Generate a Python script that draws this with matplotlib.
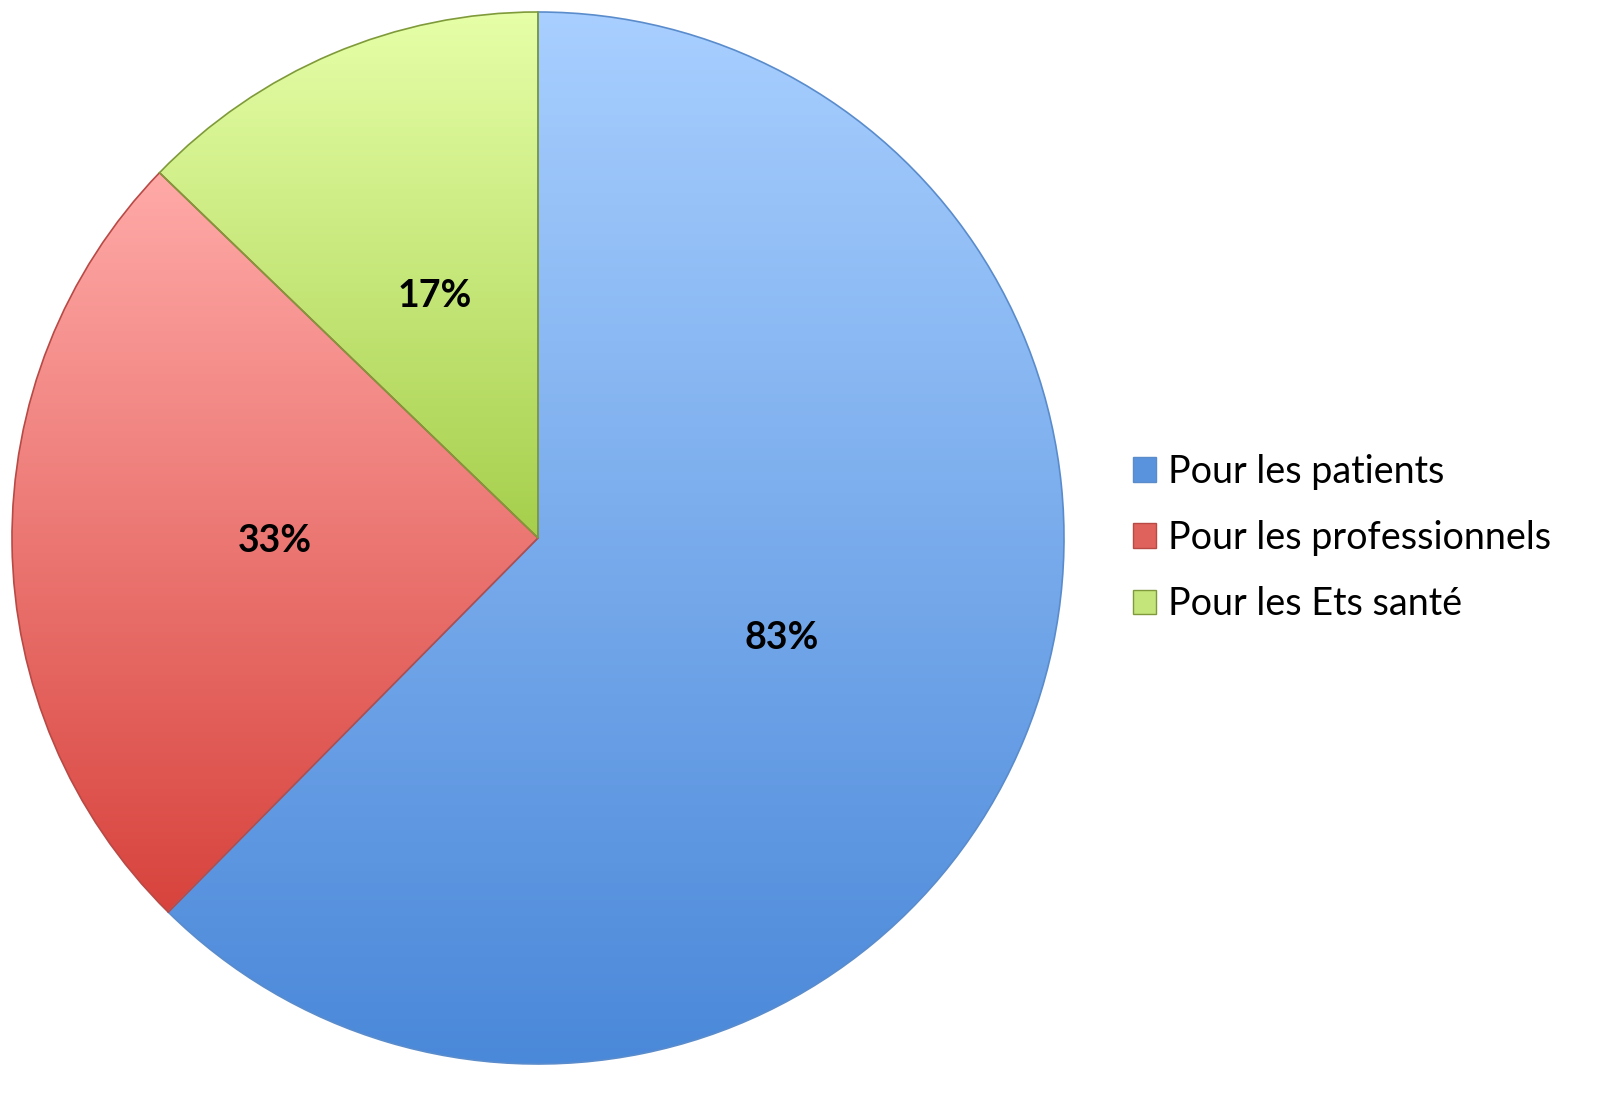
import numpy as np
import matplotlib.pyplot as plt
from matplotlib.patches import Patch
from matplotlib.colors import LinearSegmentedColormap

plt.rcParams['font.family'] = ['Lato', 'DejaVu Sans']

labels = ['Pour les patients', 'Pour les professionnels', 'Pour les Ets santé']
values = [83, 33, 17]
top_colors = ['#a8cfff', '#ffaaa8', '#e6ffa8']
bottom_colors = ['#4a88d9', '#d8433d', '#a6cf4c']
edge_colors = ['#5a8ccc', '#b84a46', '#7f9a3a']

fig = plt.figure(figsize=(16.15, 10.97), dpi=100)
W, H = 1615, 1097
# pie occupies roughly x 12..1064, y 12..1064 px
ax = fig.add_axes([12 / W, (H - 1064) / H, 1052 / W, 1052 / H])

total = sum(values)
wedges, texts, autotexts = ax.pie(
    values, startangle=90, counterclock=False, radius=1,
    autopct=lambda p: f'{round(p * total / 100)}%', pctdistance=0.5,
    wedgeprops=dict(linewidth=1.2), textprops=dict(fontsize=27, fontweight='bold', color='black'))

# vertical gradient inside each slice
for w, c1, c2, ec in zip(wedges, top_colors, bottom_colors, edge_colors):
    w.set_facecolor('none')
    w.set_edgecolor(ec)
    bb = w.get_path().get_extents(w.get_transform() + ax.transData.inverted())
    cmap = LinearSegmentedColormap.from_list('g', [c2, c1])
    grad = np.linspace(0, 1, 256).reshape(-1, 1)
    im = ax.imshow(grad, cmap=cmap, origin='lower', aspect='auto',
                   extent=[bb.x0, bb.x1, bb.y0, bb.y1], zorder=0.5)
    im.set_clip_path(w)
for t in autotexts:
    t.set_zorder(5)

ax.set_xlim(-1.0, 1.0)
ax.set_ylim(-1.0, 1.0)
ax.set_aspect('equal')
ax.axis('off')

handles = [Patch(facecolor=c, edgecolor=e, label=l)
           for c, e, l in zip(['#5a93dd', '#e0625c', '#c4e57a'], edge_colors, labels)]
leg = fig.legend(handles=handles, loc='center left', bbox_to_anchor=(1133 / W, 1 - 538 / H),
                 frameon=False, fontsize=27.2, handlelength=0.62, handleheight=0.62,
                 handletextpad=0.3, labelspacing=0.8, borderaxespad=0, borderpad=0)

fig.savefig('out.png', dpi=100, facecolor='white')
